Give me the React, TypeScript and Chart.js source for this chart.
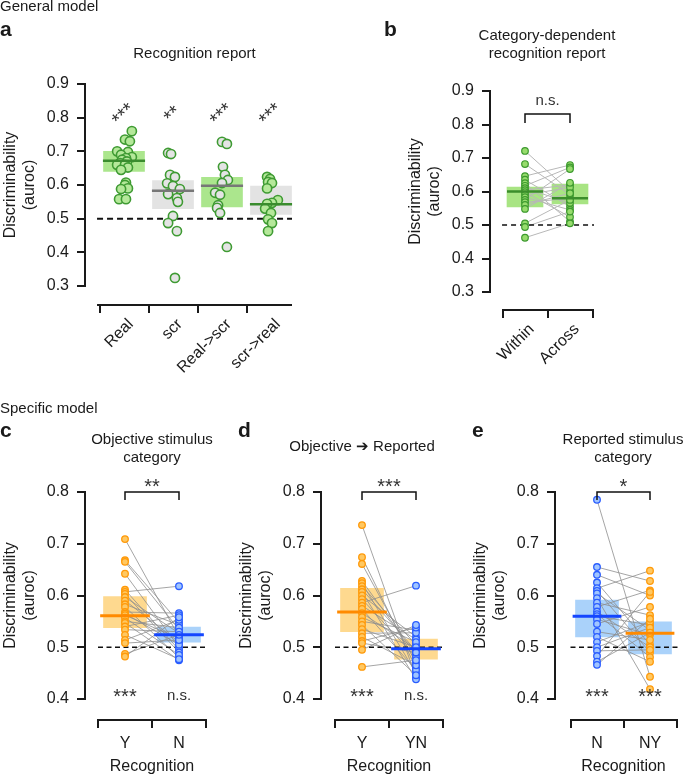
import React, { useEffect, useRef } from 'react';
import { Chart, registerables } from 'chart.js';

Chart.register(...registerables);

const FONT = "'Liberation Sans', Arial, Helvetica, sans-serif";
const STAR_MID = 0.43; // asterisk visual centre above baseline (em)

// ---------------- DATA ----------------
const CHANCE = 0.5;

// Panel a — Recognition report
const aCategories = ['Real', 'scr', 'Real->scr', 'scr->real'];
const aYTicks = [0.3, 0.4, 0.5, 0.6, 0.7, 0.8, 0.9];
const aReal = [0.76, 0.735, 0.73, 0.70, 0.698, 0.69, 0.683, 0.68, 0.675, 0.67, 0.665, 0.66, 0.66, 0.652, 0.645, 0.607, 0.60, 0.59, 0.588, 0.558, 0.558];
const aRealJitter = [0.16, 0.02, 0.12, -0.14, 0.08, -0.06, 0.16, 0.04, -0.04, 0.06, -0.08, -0.14, 0.02, 0.08, -0.06, 0.04, 0.02, 0.08, -0.06, -0.1, 0.04];
const aScr = [0.695, 0.692, 0.63, 0.624, 0.605, 0.597, 0.588, 0.573, 0.561, 0.55, 0.508, 0.487, 0.463, 0.324];
const aScrJitter = [-0.1, -0.04, -0.06, 0.04, -0.12, 0, 0.14, -0.1, 0.08, 0.1, 0, -0.1, 0.08, 0.04];
const aRealToScr = [0.728, 0.722, 0.654, 0.63, 0.615, 0.606, 0.577, 0.571, 0.54, 0.532, 0.517, 0.416];
const aRealToScrJitter = [0, 0.1, 0.02, 0.06, 0.12, 0, -0.14, -0.04, -0.08, -0.1, -0.04, 0.1];
const aScrToReal = [0.624, 0.618, 0.609, 0.606, 0.59, 0.555, 0.547, 0.544, 0.53, 0.517, 0.498, 0.487, 0.463];
const aScrToRealJitter = [-0.08, -0.02, -0.06, 0.02, -0.08, 0.14, 0.02, -0.08, -0.12, 0, -0.06, 0.02, -0.06];
const aBoxLow = [0.64, 0.53, 0.535, 0.513];
const aBoxHigh = [0.70, 0.613, 0.623, 0.597];
const aMedians = [0.672, 0.583, 0.598, 0.543];
const aStars = ['***', '**', '***', '***'];

// Panel b — Category-dependent recognition report
const bCategories = ['Within', 'Across'];
const bYTicks = [0.3, 0.4, 0.5, 0.6, 0.7, 0.8, 0.9];
const bWithin = [0.721, 0.682, 0.646, 0.635, 0.625, 0.617, 0.61, 0.604, 0.598, 0.59, 0.583, 0.575, 0.568, 0.56, 0.548, 0.505, 0.494, 0.462];
const bAcross = [0.6, 0.59, 0.679, 0.555, 0.51, 0.672, 0.566, 0.62, 0.524, 0.612, 0.545, 0.667, 0.579, 0.595, 0.626, 0.575, 0.54, 0.505];
const bBoxLow = [0.554, 0.563];
const bBoxHigh = [0.613, 0.622];
const bMedians = [0.6, 0.58];
const bTest = 'n.s.';

// Panel c — Objective stimulus category
const cCategories = ['Y', 'N'];
const cdeYTicks = [0.4, 0.5, 0.6, 0.7, 0.8];
const cY = [0.709, 0.668, 0.665, 0.642, 0.611, 0.607, 0.603, 0.597, 0.59, 0.583, 0.578, 0.568, 0.565, 0.562, 0.557, 0.55, 0.547, 0.54, 0.534, 0.524, 0.514, 0.508, 0.487, 0.482];
const cN = [0.52, 0.548, 0.534, 0.5, 0.495, 0.618, 0.49, 0.527, 0.51, 0.543, 0.48, 0.566, 0.505, 0.517, 0.485, 0.538, 0.475, 0.562, 0.53, 0.477, 0.553, 0.514, 0.524, 0.558];
const cBoxLow = [0.538, 0.51];
const cBoxHigh = [0.598, 0.539];
const cMedians = [0.561, 0.524];
const cTest = '**';
const cVsChance = ['***', 'n.s.'];

// Panel d — Objective -> Reported
const dCategories = ['Y', 'YN'];
const dY = [0.736, 0.674, 0.661, 0.628, 0.624, 0.618, 0.612, 0.607, 0.6, 0.593, 0.586, 0.58, 0.574, 0.566, 0.558, 0.55, 0.543, 0.535, 0.527, 0.52, 0.512, 0.508, 0.495, 0.462];
const dYN = [0.442, 0.46, 0.47, 0.485, 0.45, 0.505, 0.493, 0.438, 0.52, 0.48, 0.619, 0.515, 0.456, 0.497, 0.51, 0.533, 0.446, 0.5, 0.528, 0.465, 0.538, 0.49, 0.543, 0.475];
const dBoxLow = [0.53, 0.477];
const dBoxHigh = [0.614, 0.516];
const dMedians = [0.568, 0.497];
const dTest = '***';
const dVsChance = ['***', 'n.s.'];

// Panel e — Reported stimulus category
const eCategories = ['N', 'NY'];
const eN = [0.785, 0.655, 0.64, 0.625, 0.614, 0.609, 0.604, 0.595, 0.586, 0.578, 0.569, 0.564, 0.56, 0.554, 0.545, 0.53, 0.52, 0.51, 0.5, 0.493, 0.483, 0.472, 0.466];
const eNY = [0.443, 0.628, 0.6, 0.505, 0.648, 0.49, 0.533, 0.419, 0.562, 0.61, 0.5, 0.481, 0.543, 0.524, 0.578, 0.514, 0.472, 0.549, 0.538, 0.495, 0.607, 0.528, 0.555];
const eBoxLow = [0.52, 0.487];
const eBoxHigh = [0.591, 0.549];
const eMedians = [0.56, 0.527];
const eTest = '*';
const eVsChance = ['***', '***'];

// ---------------- STYLE ----------------
const C = {
  aGreenFill: '#b5e89a', aGreenBorder: '#3f9b33', aGrayFill: '#e4e4e4',
  aGreenBox: '#abe68d', aGrayBox: '#e3e3e3', aGreenLine: '#3a8c2e', aGrayLine: '#777777',
  bFill: '#97dc6d', bBorder: '#3d9a2e', bBox: '#a8e483', bLine: '#3b8e2b',
  oFill: '#ffc862', oBorder: '#ff9a0a', oBox: '#fed98f', oLine: '#ff8a00',
  blFill: '#a0c5ff', blBorder: '#2a5dff', blBox: '#aad2fa', blLine: '#1446ff',
  axis: '#1a1a1a', text: '#1a1a1a', star: '#333333',
};

type Group = {
  values: number[]; xOffsets?: number[];
  fill: string; border: string;
  boxLow: number; boxHigh: number; boxColor: string;
  median: number; medianColor: string;
};

type Txt = { t: string; x: number; y: number; size: number; bold?: boolean; align?: CanvasTextAlign };

type Cfg = {
  rect: { left: number; top: number; width: number; height: number };
  area: { left: number; right: number; top: number; bottom: number };
  yMin: number; yMax: number; yTicks: number[];
  xMin: number; xMax: number; categories: string[]; rotate: boolean; labelPad: number;
  axisFrom: number;
  groups: Group[];
  pairs?: { color: string; width: number };
  pointRadius: number; pointBorder: number; boxThickness: number; medianHalf: number; medianWidth: number;
  chanceWidth: number; chanceDash: number[];
  texts: Txt[];
  rotatedStars?: { level: number; labels: string[] };
  bracket?: { level: number; drop: number; label: string; size: number; gap: number };
  bottomLabels?: { level: number; labels: string[] };
  xTitle?: string;
};

function makeGroups(vals: number[][], offs: (number[] | undefined)[], fills: string[], borders: string[], lows: number[], highs: number[], boxCols: string[], meds: number[], medCols: string[]): Group[] {
  return vals.map((v, i) => ({
    values: v, xOffsets: offs[i], fill: fills[i], border: borders[i],
    boxLow: lows[i], boxHigh: highs[i], boxColor: boxCols[i], median: meds[i], medianColor: medCols[i],
  }));
}

const cfgA: Cfg = {
  rect: { left: 0, top: 0, width: 365, height: 385 },
  area: { left: 86, right: 292, top: 84, bottom: 304 },
  yMin: 0.9 - 220 / 336.7, yMax: 0.9, yTicks: aYTicks,
  xMin: -38 / 49, xMax: 168 / 49, categories: aCategories, rotate: true, labelPad: 2,
  axisFrom: -0.55,
  groups: makeGroups(
    [aReal, aScr, aRealToScr, aScrToReal],
    [aRealJitter, aScrJitter, aRealToScrJitter, aScrToRealJitter],
    [C.aGreenFill, C.aGrayFill, C.aGrayFill, C.aGreenFill],
    [C.aGreenBorder, C.aGreenBorder, C.aGreenBorder, C.aGreenBorder],
    aBoxLow, aBoxHigh,
    [C.aGreenBox, C.aGrayBox, C.aGreenBox, C.aGrayBox],
    aMedians,
    [C.aGreenLine, C.aGrayLine, C.aGrayLine, C.aGreenLine]),
  pointRadius: 4.6, pointBorder: 1.6, boxThickness: 41, medianHalf: 0.43, medianWidth: 2.5,
  chanceWidth: 2, chanceDash: [6, 4],
  texts: [
    { t: 'General model', x: 0, y: 11, size: 15 },
    { t: 'a', x: 0, y: 36, size: 21, bold: true },
    { t: 'Recognition report', x: 194.5, y: 58, size: 15, align: 'center' },
  ],
  rotatedStars: { level: 0.814, labels: aStars },
};

const cfgB: Cfg = {
  rect: { left: 365, top: 0, width: 320, height: 385 },
  area: { left: 491, right: 594, top: 91, bottom: 309 },
  yMin: 0.9 - 218 / 335, yMax: 0.9, yTicks: bYTicks,
  xMin: -34 / 45, xMax: 69 / 45, categories: bCategories, rotate: true, labelPad: 2,
  axisFrom: -0.51,
  groups: makeGroups(
    [bWithin, bAcross], [undefined, undefined],
    [C.bFill, C.bFill], [C.bBorder, C.bBorder],
    bBoxLow, bBoxHigh, [C.bBox, C.bBox], bMedians, [C.bLine, C.bLine]),
  pairs: { color: '#b8b8b8', width: 1 },
  pointRadius: 3.3, pointBorder: 1.2, boxThickness: 36, medianHalf: 0.4, medianWidth: 2.5,
  chanceWidth: 1.6, chanceDash: [5, 4],
  texts: [
    { t: 'b', x: 384, y: 36, size: 21, bold: true },
    { t: 'Category-dependent', x: 547, y: 40, size: 15, align: 'center' },
    { t: 'recognition report', x: 547, y: 58, size: 15, align: 'center' },
  ],
  bracket: { level: 0.831, drop: 9, label: bTest, size: 15, gap: 9 },
};

function cdeCfg(left: number, width: number, axisX: number, right: number, catX0: number, spacing: number, cats: string[], groups: Group[], texts: Txt[], test: string, vsChance: string[]): Cfg {
  return {
    rect: { left, top: 385, width, height: 389 },
    area: { left: axisX, right, top: 492, bottom: 719 },
    yMin: 0.4 - 20 / 517.5, yMax: 0.8, yTicks: cdeYTicks,
    xMin: (axisX - catX0) / spacing, xMax: (right - catX0) / spacing, categories: cats, rotate: false, labelPad: 6,
    axisFrom: -0.5,
    groups,
    pairs: { color: '#8e8e8e', width: 0.8 },
    pointRadius: 3.3, pointBorder: 1.3, boxThickness: 43, medianHalf: 0.46, medianWidth: 3,
    chanceWidth: 1.5, chanceDash: [5, 3.5],
    texts,
    bracket: { level: 0.8, drop: 8, label: test, size: 20, gap: 7.5 },
    bottomLabels: { level: 0.4, labels: vsChance },
    xTitle: 'Recognition',
  };
}

const cfgC = cdeCfg(0, 230, 86, 206, 125, 54, cCategories,
  makeGroups([cY, cN], [undefined, undefined], [C.oFill, C.blFill], [C.oBorder, C.blBorder],
    cBoxLow, cBoxHigh, [C.oBox, C.blBox], cMedians, [C.oLine, C.blLine]),
  [
    { t: 'Specific model', x: 0, y: 413, size: 15 },
    { t: 'c', x: 0, y: 437, size: 21, bold: true },
    { t: 'Objective stimulus', x: 152, y: 444, size: 15, align: 'center' },
    { t: 'category', x: 152, y: 462, size: 15, align: 'center' },
  ], cTest, cVsChance);

const cfgD = cdeCfg(230, 225, 322, 443, 362, 54, dCategories,
  makeGroups([dY, dYN], [undefined, undefined], [C.oFill, C.blFill], [C.oBorder, C.blBorder],
    dBoxLow, dBoxHigh, [C.oBox, C.oBox], dMedians, [C.oLine, C.blLine]),
  [
    { t: 'd', x: 238, y: 437, size: 21, bold: true },
    { t: 'Objective \u2794 Reported', x: 362, y: 451, size: 15, align: 'center' },
  ], dTest, dVsChance);

const cfgE = cdeCfg(455, 230, 556, 678, 597, 53, eCategories,
  makeGroups([eN, eNY], [undefined, undefined], [C.blFill, C.oFill], [C.blBorder, C.oBorder],
    eBoxLow, eBoxHigh, [C.blBox, C.blBox], eMedians, [C.blLine, C.oLine]),
  [
    { t: 'e', x: 472, y: 437, size: 21, bold: true },
    { t: 'Reported stimulus', x: 623, y: 444, size: 15, align: 'center' },
    { t: 'category', x: 623, y: 462, size: 15, align: 'center' },
  ], eTest, eVsChance);

// ---------------- CHART ----------------
function Panel({ cfg }: { cfg: Cfg }) {
  const ref = useRef<HTMLCanvasElement>(null);
  useEffect(() => {
    const canvas = ref.current;
    if (!canvas) return;
    const { rect, area } = cfg;
    const yScaleWidth = area.left - rect.left;
    const xScaleHeight = rect.top + rect.height - area.bottom;
    const pad = {
      left: 0,
      top: area.top - rect.top,
      right: rect.left + rect.width - area.right,
      bottom: 0,
    };
    const datasets: any[] = [];
    cfg.groups.forEach((g, i) => {
      datasets.push({
        type: 'bar', data: [{ x: i, y: [g.boxLow, g.boxHigh] }],
        backgroundColor: g.boxColor, borderWidth: 0, barThickness: cfg.boxThickness,
        grouped: false, order: 6, clip: false,
      });
      datasets.push({
        type: 'line', data: [{ x: i - cfg.medianHalf, y: g.median }, { x: i + cfg.medianHalf, y: g.median }],
        borderColor: g.medianColor, borderWidth: cfg.medianWidth, pointRadius: 0, order: 0, clip: false,
        borderCapStyle: 'butt',
      });
      datasets.push({
        type: 'scatter',
        data: g.values.map((v, k) => ({ x: i + (g.xOffsets ? g.xOffsets[k] : 0), y: v })),
        pointRadius: cfg.pointRadius, pointBorderWidth: cfg.pointBorder,
        pointBackgroundColor: g.fill, pointBorderColor: g.border, order: 1, clip: false,
      });
    });
    if (cfg.pairs) {
      const a = cfg.groups[0].values;
      const b = cfg.groups[1].values;
      const d: any[] = [];
      a.forEach((v, k) => {
        if (b[k] === undefined) return;
        d.push({ x: 0, y: v }, { x: 1, y: b[k] }, { x: 0.5, y: null });
      });
      datasets.push({
        type: 'line', data: d, borderColor: cfg.pairs.color, borderWidth: cfg.pairs.width,
        pointRadius: 0, spanGaps: false, order: 3, clip: false,
      });
    }
    datasets.push({
      type: 'line', data: [{ x: cfg.axisFrom, y: CHANCE }, { x: cfg.xMax, y: CHANCE }],
      borderColor: '#111', borderWidth: cfg.chanceWidth, borderDash: cfg.chanceDash,
      pointRadius: 0, order: 2, clip: false,
    });

    const toX = (x: number) => x - rect.left;
    const toY = (y: number) => y - rect.top;

    const decor = {
      id: 'decor',
      afterDraw(chart: any) {
        const ctx: CanvasRenderingContext2D = chart.ctx;
        const xs = chart.scales.x;
        const ys = chart.scales.y;
        const ca = chart.chartArea;
        ctx.save();
        // axes
        ctx.strokeStyle = C.axis;
        ctx.lineWidth = 2;
        ctx.lineCap = 'butt';
        const yTop = ys.getPixelForValue(Math.max(...cfg.yTicks));
        const yBot = ys.getPixelForValue(Math.min(...cfg.yTicks));
        ctx.beginPath();
        ctx.moveTo(ca.left - 1, yTop - 1);
        ctx.lineTo(ca.left - 1, yBot + 1);
        ctx.stroke();
        ctx.beginPath();
        ctx.moveTo(xs.getPixelForValue(cfg.axisFrom), ca.bottom + 1);
        ctx.lineTo(ca.right, ca.bottom + 1);
        ctx.stroke();

        // free texts
        ctx.fillStyle = C.text;
        ctx.textBaseline = 'alphabetic';
        cfg.texts.forEach((t) => {
          ctx.font = `${t.bold ? 'bold ' : ''}${t.size}px ${FONT}`;
          ctx.textAlign = t.align || 'left';
          ctx.fillText(t.t, toX(t.x), toY(t.y));
        });

        // y title
        ctx.font = `16px ${FONT}`;
        ctx.textAlign = 'center';
        const yc = (yTop + yBot) / 2;
        ctx.save();
        ctx.translate(ca.left - 71, yc);
        ctx.rotate(-Math.PI / 2);
        ctx.fillText('Discriminability', 0, 0);
        ctx.restore();
        ctx.save();
        ctx.translate(ca.left - 52, yc);
        ctx.rotate(-Math.PI / 2);
        ctx.fillText('(auroc)', 0, 0);
        ctx.restore();

        // x title
        if (cfg.xTitle) {
          ctx.font = `16px ${FONT}`;
          ctx.textAlign = 'center';
          const xc = (xs.getPixelForValue(0) + xs.getPixelForValue(cfg.categories.length - 1)) / 2;
          ctx.fillText(cfg.xTitle, xc, ca.bottom + 52);
        }

        // rotated stars (panel a)
        if (cfg.rotatedStars) {
          const rs = cfg.rotatedStars;
          ctx.fillStyle = C.star;
          ctx.font = `20px ${FONT}`;
          ctx.textAlign = 'center';
          rs.labels.forEach((l, i) => {
            ctx.save();
            ctx.translate(xs.getPixelForValue(i) - 2, ys.getPixelForValue(rs.level));
            ctx.rotate(-Math.PI / 4);
            ctx.fillText(l, 0, STAR_MID * 20);
            ctx.restore();
          });
        }

        // bracket
        if (cfg.bracket) {
          const br = cfg.bracket;
          const x0 = xs.getPixelForValue(0);
          const x1 = xs.getPixelForValue(1);
          const yb = ys.getPixelForValue(br.level);
          ctx.strokeStyle = '#111';
          ctx.lineWidth = 1.5;
          ctx.beginPath();
          ctx.moveTo(x0, yb + br.drop);
          ctx.lineTo(x0, yb);
          ctx.lineTo(x1, yb);
          ctx.lineTo(x1, yb + br.drop);
          ctx.stroke();
          ctx.fillStyle = C.star;
          ctx.font = `${br.size}px ${FONT}`;
          ctx.textAlign = 'center';
          const isStar = br.label.indexOf('*') >= 0;
          const cy = yb - br.gap;
          ctx.fillText(br.label, (x0 + x1) / 2, isStar ? cy + STAR_MID * br.size : cy);
        }

        // per-condition vs chance labels
        if (cfg.bottomLabels) {
          const bl = cfg.bottomLabels;
          ctx.fillStyle = C.star;
          ctx.textAlign = 'center';
          bl.labels.forEach((l, i) => {
            const isStar = l.indexOf('*') >= 0;
            const px = xs.getPixelForValue(i);
            const py = ys.getPixelForValue(bl.level);
            if (isStar) {
              ctx.font = `20px ${FONT}`;
              ctx.fillText(l, px, py - 5 + STAR_MID * 20);
            } else {
              ctx.font = `15px ${FONT}`;
              ctx.fillText(l, px, py + 1);
            }
          });
        }
        ctx.restore();
      },
    };

    const cats = cfg.categories;
    const chart = new Chart(canvas, {
      type: 'scatter',
      data: { datasets },
      options: {
        animation: false,
        responsive: false,
        maintainAspectRatio: false,
        events: [],
        layout: { padding: pad },
        plugins: { legend: { display: false }, tooltip: { enabled: false }, title: { display: false } },
        scales: {
          x: {
            type: 'linear', min: cfg.xMin, max: cfg.xMax, bounds: 'data', offset: false,
            afterFit: (s: any) => { s.height = xScaleHeight; },
            afterBuildTicks: (s: any) => { s.ticks = cats.map((_, i) => ({ value: i })); },
            ticks: {
              autoSkip: false,
              callback: (v: any) => cats[Math.round(Number(v))] ?? '',
              font: { family: FONT, size: 16 }, color: C.text,
              padding: cfg.labelPad,
              maxRotation: cfg.rotate ? 45 : 0, minRotation: cfg.rotate ? 45 : 0,
              showLabelBackdrop: cfg.rotate,
              backdropColor: 'rgba(0,0,0,0)',
              backdropPadding: 0,
            },
            grid: { display: true, drawOnChartArea: false, drawTicks: true, tickLength: 9, tickWidth: 2, tickColor: C.axis, color: C.axis, lineWidth: 2 },
            border: { display: false },
          },
          y: {
            type: 'linear', min: cfg.yMin, max: cfg.yMax, bounds: 'data',
            afterFit: (s: any) => { s.width = yScaleWidth; },
            afterBuildTicks: (s: any) => { s.ticks = cfg.yTicks.map((v) => ({ value: v })); },
            ticks: {
              autoSkip: false,
              callback: (v: any) => Number(v).toFixed(1),
              font: { family: FONT, size: 16 }, color: C.text, padding: 8,
            },
            grid: { display: true, drawOnChartArea: false, drawTicks: true, tickLength: 9, tickWidth: 2, tickColor: C.axis, color: C.axis, lineWidth: 2 },
            border: { display: false },
          },
        },
      } as any,
      plugins: [decor],
    });
    return () => chart.destroy();
  }, [cfg]);

  return (
    <canvas
      ref={ref}
      width={cfg.rect.width}
      height={cfg.rect.height}
      style={{ position: 'absolute', left: cfg.rect.left, top: cfg.rect.top, width: cfg.rect.width, height: cfg.rect.height, display: 'block' }}
    />
  );
}

export default function App() {
  return (
    <div style={{ position: 'absolute', left: 0, top: 0, width: 685, height: 774, background: '#ffffff', overflow: 'hidden' }}>
      <Panel cfg={cfgA} />
      <Panel cfg={cfgB} />
      <Panel cfg={cfgC} />
      <Panel cfg={cfgD} />
      <Panel cfg={cfgE} />
    </div>
  );
}
